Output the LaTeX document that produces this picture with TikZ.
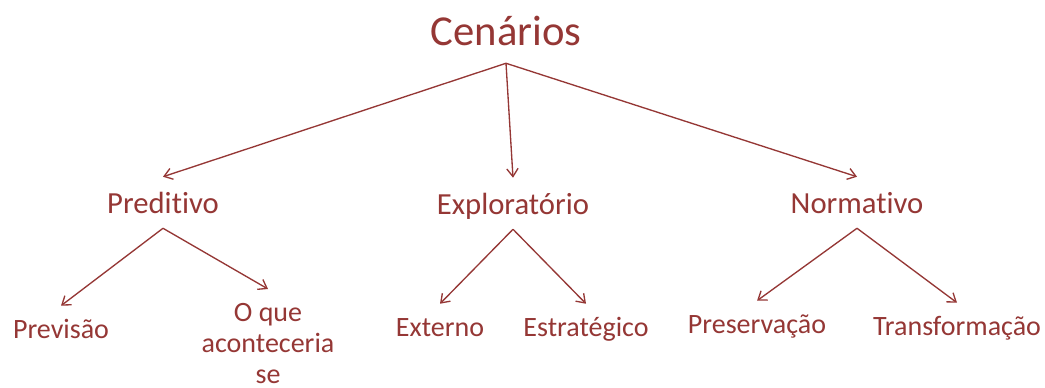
\documentclass[tikz,border=0pt]{standalone}
\usepackage{fontspec}
\setmainfont[Ligatures=NoCommon]{Carlito}
\usetikzlibrary{arrows.meta}
\definecolor{dred}{RGB}{149,55,53}
\begin{document}
\begin{tikzpicture}[x=0.75pt,y=-0.75pt,
  every node/.style={text=dred, inner sep=0pt},
  lvlone/.style={anchor=base, font=\fontsize{32}{38}\selectfont, text depth=13.5pt},
  lvltwo/.style={anchor=base, font=\fontsize{23}{28}\selectfont, text height=27pt, text depth=11.25pt},
  lvlthree/.style={anchor=base, font=\fontsize{21}{23.25}\selectfont, text height=24pt},
  conn/.style={draw=dred, line width=1pt, -{Straight Barb[length=6pt,width=8.5pt]}}]
\useasboundingbox (0,0) rectangle (1045,387);
\fill[white] (0,0) rectangle (1045,387);
\node[lvlone] (root) at (506,45) {Cenários};
\node[lvltwo] (pred) at (163,213) {Preditivo};
\node[lvltwo] (expl) at (513,214) {Exploratório};
\node[lvltwo] (norm) at (857,213) {Normativo};
\node[lvlthree] (prev) at (61,338) {Previsão};
\node[anchor=north, align=center, font=\fontsize{21}{23.25}\selectfont] (oque) at (268,289) {\rule{0pt}{24pt}O que\\aconteceria\\se};
\node[lvlthree] (ext) at (440,336) {Externo};
\node[lvlthree] (estr) at (586,336) {Estratégico};
\node[lvlthree] (pres) at (757,333) {Preservação};
\node[lvlthree] (trans) at (957,335) {Transformação};
\draw[conn] (root.south) -- (pred.north);
\draw[conn] (root.south) -- (expl.north);
\draw[conn] (root.south) -- (norm.north);
\draw[conn] (pred.south) -- (prev.north);
\draw[conn] (pred.south) -- (oque.north);
\draw[conn] (expl.south) -- (ext.north);
\draw[conn] (expl.south) -- (estr.north);
\draw[conn] (norm.south) -- (pres.north);
\draw[conn] (norm.south) -- (trans.north);
\end{tikzpicture}
\end{document}
